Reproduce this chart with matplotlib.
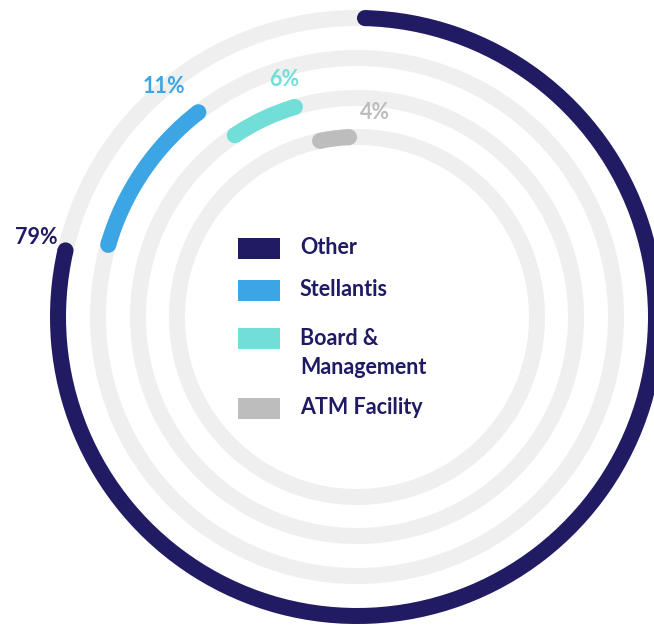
import numpy as np
import matplotlib
matplotlib.use("Agg")
import matplotlib.pyplot as plt
from matplotlib.patches import Rectangle, Wedge, Circle

# data
labels = ["Other", "Stellantis", "Board &\nManagement", "ATM Facility"]
shares = [79, 11, 6, 4]
pct_text = ["79%", "11%", "6%", "4%"]
colors = ["#211b63", "#3ba6e3", "#72ded8", "#bdbdbd"]

W, H = 654, 633
cx, cy = 357, H - 317
radii = [299, 259, 219, 180]
track = "#efefef"
half = 8  # half the ring thickness, px
text_col = "#1f1b63"
fs = 15.5

fig = plt.figure(figsize=(W / 100, H / 100), dpi=100)
ax = fig.add_axes([0, 0, 1, 1])
ax.set_xlim(0, W)
ax.set_ylim(0, H)
ax.axis("off")

# each ring continues where the previous one ended, clockwise from 12 o'clock
start = 0.0
ends = []
for r, s, c in zip(radii, shares, colors):
    ax.add_patch(Wedge((cx, cy), r + half, 0, 360, width=2 * half,
                       color=track, lw=0, zorder=1))
    # keep the round caps inside the arc's span
    inset = np.degrees(half / r)
    a0 = 90 - 360 * start / 100 - inset
    a1 = 90 - 360 * (start + s) / 100 + inset
    ax.add_patch(Wedge((cx, cy), r + half, a1, a0, width=2 * half,
                       color=c, lw=0, zorder=2))
    for a in (a0, a1):
        t = np.radians(a)
        ax.add_patch(Circle((cx + r * np.cos(t), cy + r * np.sin(t)), half,
                            color=c, lw=0, zorder=2))
    ends.append(90 - 360 * (start + s) / 100)
    start += s

# percentage labels near the end of each arc
nudges = [(0.5, 31), (4, 42), (2.6, 29), (-5, 25)]
for r, a, (da, dr), t, c in zip(radii, ends, nudges, pct_text, colors):
    ang = np.radians(a + da)
    ax.text(cx + (r + dr) * np.cos(ang), cy + (r + dr) * np.sin(ang), t,
            color=c, fontsize=fs, fontweight="bold", family="Lato",
            ha="center", va="center")

# legend in the middle
rows_y = [248, 290, 338, 408]
for yy, lab, c in zip(rows_y, labels, colors):
    ax.add_patch(Rectangle((238, H - yy - 10.5), 42, 21, color=c, lw=0))
    n_lines = lab.count("\n") + 1
    ax.text(300, H - yy - 15 * (n_lines - 1), lab, color=text_col,
            fontsize=fs, fontweight="bold", family="Lato", ha="left",
            va="center", linespacing=1.45)

fig.savefig("out.png", dpi=100, facecolor="white")
